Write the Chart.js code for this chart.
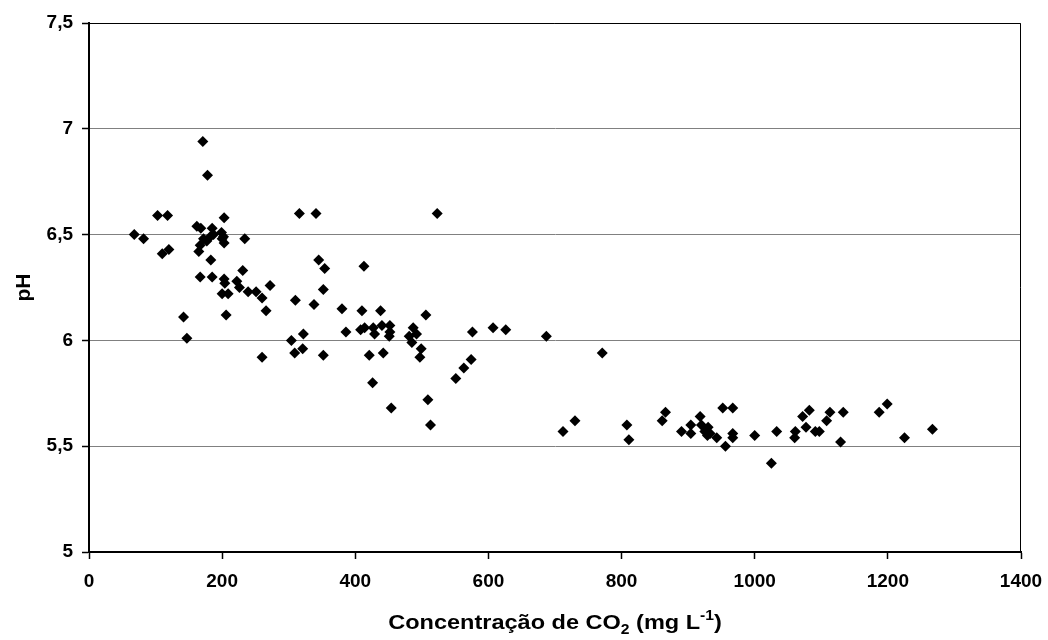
<!DOCTYPE html>
<html>
<head>
<meta charset="utf-8">
<script src="https://cdn.jsdelivr.net/npm/chart.js@4/dist/chart.umd.min.js"></script>
<style>
  html, body { margin: 0; padding: 0; background: #fff; }
  #wrap { width: 1048px; height: 640px; }
</style>
</head>
<body>
<div id="wrap"><canvas id="myChart" width="1048" height="640"></canvas></div>
<script>
// CO2 concentration (mg/L) and pH
var co2 = [
  68, 82, 103, 118, 110, 120, 142, 147, 162, 165, 167, 168, 171, 172, 167, 178,
  182, 185, 187, 183, 185, 177, 199, 200, 202, 203, 203, 203, 204, 200, 209, 206,
  222, 226, 231, 234, 239, 251, 260, 272, 266, 260, 304, 310, 309, 316, 322, 321,
  338, 341, 345, 352, 354, 352, 380, 386, 408, 410, 413, 414, 421, 426, 427, 429,
  438, 440, 442, 452, 452, 451, 454, 481, 485, 487, 492, 497, 499, 506, 509, 513,
  523, 551, 563, 574, 576, 607, 626, 687, 712, 730, 771, 808, 811, 861, 866, 890,
  904, 904, 918, 920, 925, 930, 933, 929, 943, 952, 967, 956, 967, 967, 1000, 1025,
  1033, 1060, 1061, 1072, 1082, 1077, 1091, 1097, 1108, 1113, 1129, 1133, 1187, 1199, 1225, 1267
];
var ph = [
  6.50, 6.48, 6.59, 6.59, 6.41, 6.43, 6.11, 6.01, 6.54, 6.42, 6.45, 6.53, 6.94, 6.48, 6.30, 6.78,
  6.49, 6.53, 6.50, 6.38, 6.30, 6.47, 6.51, 6.48, 6.49, 6.46, 6.58, 6.29, 6.27, 6.22, 6.22, 6.12,
  6.28, 6.25, 6.33, 6.48, 6.23, 6.23, 6.20, 6.26, 6.14, 5.92, 6.00, 6.19, 5.94, 6.60, 6.03, 5.96,
  6.17, 6.60, 6.38, 6.24, 6.34, 5.93, 6.15, 6.04, 6.05, 6.14, 6.35, 6.06, 5.93, 5.80, 6.06, 6.03,
  6.14, 6.07, 5.94, 6.07, 6.04, 6.02, 5.68, 6.02, 5.99, 6.06, 6.03, 5.92, 5.96, 6.12, 5.72, 5.60,
  6.60, 5.82, 5.87, 5.91, 6.04, 6.06, 6.05, 6.02, 5.57, 5.62, 5.94, 5.60, 5.53, 5.62, 5.66, 5.57,
  5.56, 5.60, 5.64, 5.60, 5.57, 5.59, 5.56, 5.55, 5.54, 5.68, 5.68, 5.50, 5.56, 5.54, 5.55, 5.42,
  5.57, 5.54, 5.57, 5.64, 5.67, 5.59, 5.57, 5.57, 5.62, 5.66, 5.52, 5.66, 5.66, 5.70, 5.54, 5.58
];
var xTicks = [0, 200, 400, 600, 800, 1000, 1200, 1400];
var yTicks = [5, 5.5, 6, 6.5, 7, 7.5];

var points = co2.map(function(x, i) {
  return { x: x, y: ph[i] };
});

var FONT = '"Liberation Sans", Arial, sans-serif';

// axis titles with sub/superscript + frame on top/right
var titlesPlugin = {
  id: 'titles',
  afterDraw: function(chart) {
    var ctx = chart.ctx;
    var area = chart.chartArea;
    ctx.save();

    ctx.strokeStyle = '#000';
    ctx.lineWidth = 1;
    ctx.beginPath();
    ctx.moveTo(area.left, area.top + 0.5);
    ctx.lineTo(area.right - 0.5, area.top + 0.5);
    ctx.lineTo(area.right - 0.5, area.bottom);
    ctx.stroke();

    ctx.fillStyle = '#000';
    ctx.textBaseline = 'alphabetic';

    // y title
    ctx.save();
    ctx.translate(30, (area.top + area.bottom) / 2);
    ctx.rotate(-Math.PI / 2);
    ctx.font = 'bold 21px ' + FONT;
    ctx.textAlign = 'center';
    ctx.fillText('pH', 0, 0);
    ctx.restore();

    // x title (slightly widened like the original)
    var parts = [
      { t: 'Concentração de CO', size: 21, dy: 0 },
      { t: '2', size: 14, dy: 5 },
      { t: ' (mg L', size: 21, dy: 0 },
      { t: '-1', size: 14, dy: -9 },
      { t: ')', size: 21, dy: 0 }
    ];
    var stretch = 1.12;
    var total = 0;
    parts.forEach(function(p) {
      ctx.font = 'bold ' + p.size + 'px ' + FONT;
      p.w = ctx.measureText(p.t).width;
      total += p.w;
    });
    var cx = (area.left + area.right) / 2;
    ctx.translate(cx, 629);
    ctx.scale(stretch, 1);
    var x = -total / 2;
    ctx.textAlign = 'left';
    parts.forEach(function(p) {
      ctx.font = 'bold ' + p.size + 'px ' + FONT;
      ctx.fillText(p.t, x, p.dy);
      x += p.w;
    });
    ctx.restore();
  }
};

var ctx = document.getElementById('myChart').getContext('2d');
var myChart = new Chart(ctx, {
  type: 'scatter',
  data: {
    datasets: [{
      label: 'pH',
      data: points,
      pointStyle: 'rectRot',
      pointRadius: 5.5,
      pointHoverRadius: 5.5,
      backgroundColor: '#000',
      borderColor: '#000',
      borderWidth: 0
    }]
  },
  options: {
    responsive: false,
    animation: false,
    events: [],
    layout: {
      padding: { left: 0, top: 23, right: 27, bottom: 0 }
    },
    plugins: {
      legend: { display: false },
      tooltip: { enabled: false }
    },
    scales: {
      x: {
        type: 'linear',
        min: 0,
        max: 1400,
        afterFit: function(scale) {
          scale.height = 88;
          scale.paddingLeft = 0;
          scale.paddingRight = 0;
        },
        afterBuildTicks: function(scale) {
          scale.ticks = xTicks.map(function(v) { return { value: v }; });
        },
        border: { color: '#000', width: 2 },
        grid: {
          drawOnChartArea: false,
          drawTicks: true,
          tickLength: 7,
          tickColor: '#000',
          tickWidth: 1.5
        },
        ticks: {
          padding: 11,
          color: '#000',
          font: { family: FONT, size: 19, weight: 'bold' },
          callback: function(v) { return String(v); }
        }
      },
      y: {
        type: 'linear',
        min: 5,
        max: 7.5,
        afterFit: function(scale) {
          scale.width = 89;
          scale.paddingTop = 0;
          scale.paddingBottom = 0;
        },
        afterBuildTicks: function(scale) {
          scale.ticks = yTicks.map(function(v) { return { value: v }; });
        },
        border: { color: '#000', width: 2 },
        grid: {
          color: '#808080',
          lineWidth: 1,
          drawTicks: true,
          tickLength: 7,
          tickColor: '#000',
          tickWidth: 1.5
        },
        ticks: {
          padding: 9,
          color: '#000',
          font: { family: FONT, size: 19, weight: 'bold' },
          callback: function(v) { return String(v).replace('.', ','); }
        }
      }
    }
  },
  plugins: [titlesPlugin]
});
</script>
</body>
</html>
